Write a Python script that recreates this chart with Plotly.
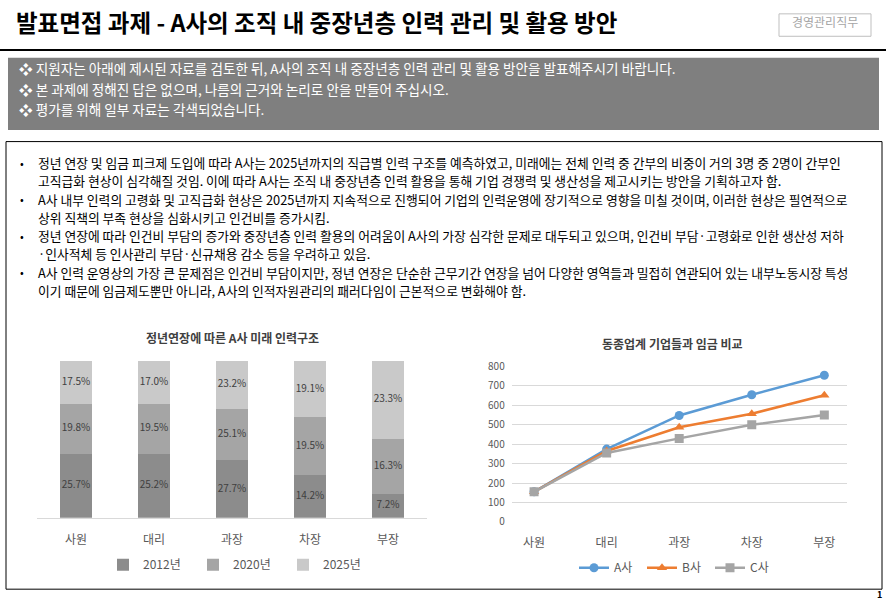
import plotly.graph_objects as go

W, H = 886, 603
def X(px): return px / W
def Y(py): return 1 - py / H

FONT = "Noto Sans CJK KR"

# ---- data ----
ranks = ["사원", "대리", "과장", "차장", "부장"]
years = ["2012년", "2020년", "2025년"]
v2012 = [25.7, 25.2, 27.7, 14.2, 7.2]
v2020 = [19.8, 19.5, 25.1, 19.5, 16.3]
v2025 = [17.5, 17.0, 23.2, 19.1, 23.3]
bar_colors = ["#8c8c8c", "#a5a5a5", "#c9c9c9"]

companies = ["A사", "B사", "C사"]
wage_a = [155, 375, 548, 655, 755]
wage_b = [155, 365, 487, 557, 652]
wage_c = [155, 355, 430, 500, 550]
line_colors = ["#5b9bd5", "#ed7d31", "#a5a5a5"]
line_symbols = ["circle", "triangle-up", "square"]
wage_ticks = [0, 100, 200, 300, 400, 500, 600, 700, 800]

title_text = "발표면접 과제 - A사의 조직 내 중장년층 인력 관리 및 활용 방안"
tag_text = "경영관리직무"
notice_lines = [
    "지원자는 아래에 제시된 자료를 검토한 뒤, A사의 조직 내 중장년층 인력 관리 및 활용 방안을 발표해주시기 바랍니다.",
    "본 과제에 정해진 답은 없으며, 나름의 근거와 논리로 안을 만들어 주십시오.",
    "평가를 위해 일부 자료는 각색되었습니다.",
]
body_lines = [
    (True, "정년 연장 및 임금 피크제 도입에 따라 A사는 2025년까지의 직급별 인력 구조를 예측하였고, 미래에는 전체 인력 중 간부의 비중이 거의 3명 중 2명이 간부인"),
    (False, "고직급화 현상이 심각해질 것임. 이에 따라 A사는 조직 내 중장년층 인력 활용을 통해 기업 경쟁력 및 생산성을 제고시키는 방안을 기획하고자 함."),
    (True, "A사 내부 인력의 고령화 및 고직급화 현상은 2025년까지 지속적으로 진행되어 기업의 인력운영에 장기적으로 영향을 미칠 것이며, 이러한 현상은 필연적으로"),
    (False, "상위 직책의 부족 현상을 심화시키고 인건비를 증가시킴."),
    (True, "정년 연장에 따라 인건비 부담의 증가와 중장년층 인력 활용의 어려움이 A사의 가장 심각한 문제로 대두되고 있으며, 인건비 부담·고령화로 인한 생산성 저하"),
    (False, "·인사적체 등 인사관리 부담·신규채용 감소 등을 우려하고 있음."),
    (True, "A사 인력 운영상의 가장 큰 문제점은 인건비 부담이지만, 정년 연장은 단순한 근무기간 연장을 넘어 다양한 영역들과 밀접히 연관되어 있는 내부노동시장 특성"),
    (False, "이기 때문에 임금제도뿐만 아니라, A사의 인적자원관리의 패러다임이 근본적으로 변화해야 함."),
]
bar_title = "정년연장에 따른 A사 미래 인력구조"
line_title = "동종업계 기업들과 임금 비교"

fig = go.Figure()

# ---- 100% stacked bars ----
series = [v2012, v2020, v2025]
for name, vals, col in zip(years, series, bar_colors):
    fig.add_trace(go.Bar(x=ranks, y=vals, name=name, marker_color=col,
                         marker_line_width=0, xaxis="x", yaxis="y",
                         legend="legend", hoverinfo="skip"))

# label positions (middle of each normalized segment)
totals = [a + b + c for a, b, c in zip(v2012, v2020, v2025)]
cum = [0.0] * len(ranks)
for vals in series:
    mids = []
    for i, v in enumerate(vals):
        share = v / totals[i] * 100
        mids.append(cum[i] + share / 2)
        cum[i] += share
    fig.add_trace(go.Scatter(x=ranks, y=mids, mode="text",
                             text=[f"{v:.1f}%" for v in vals],
                             textfont=dict(family=FONT, size=10, color="#404040"),
                             showlegend=False, xaxis="x", yaxis="y", hoverinfo="skip"))

# ---- lines ----
for name, vals, col, sym in zip(companies, [wage_a, wage_b, wage_c], line_colors, line_symbols):
    fig.add_trace(go.Scatter(x=ranks, y=vals, name=name, mode="lines+markers",
                             line=dict(color=col, width=2.5),
                             marker=dict(symbol=sym, size=9, color=col),
                             xaxis="x2", yaxis="y2", legend="legend2", hoverinfo="skip"))

shapes = [
    dict(type="line", xref="paper", yref="paper", x0=X(0), x1=X(886), y0=Y(43), y1=Y(43),
         line=dict(color="#000000", width=2)),
    dict(type="rect", xref="paper", yref="paper", x0=X(779), x1=X(871), y0=Y(6), y1=Y(29),
         line=dict(color="#bfbfbf", width=1), fillcolor="white"),
    dict(type="rect", xref="paper", yref="paper", x0=X(8), x1=X(879), y0=Y(51), y1=Y(125),
         line=dict(width=0), fillcolor="#7f7f7f"),
    dict(type="rect", xref="paper", yref="paper", x0=X(6), x1=X(882), y0=Y(137), y1=Y(596),
         line=dict(color="#000000", width=1), fillcolor="rgba(0,0,0,0)"),
]

ann = [
    dict(text=f"<b>{title_text}</b>", x=X(14), y=Y(14), xanchor="left", yanchor="middle",
         font=dict(family=FONT, size=23.5, color="#000000")),
    dict(text=tag_text, x=X(825), y=Y(13.5), xanchor="center", yanchor="middle",
         font=dict(family=FONT, size=12, color="#a6a6a6")),
    dict(text="<b>1</b>", x=X(884), y=Y(601), xanchor="right", yanchor="middle",
         font=dict(family=FONT, size=9, color="#000000")),
    dict(text=f"<b>{bar_title}</b>", x=X(233), y=Y(338), xanchor="center", yanchor="middle",
         font=dict(family=FONT, size=12, color="#404040")),
    dict(text=f"<b>{line_title}</b>", x=X(672), y=Y(344), xanchor="center", yanchor="middle",
         font=dict(family=FONT, size=12, color="#404040")),
]
for i, t in enumerate(notice_lines):
    ann.append(dict(text="❖ " + t, x=X(17), y=Y(62 + i * 21), xanchor="left", yanchor="middle",
                    font=dict(family=FONT, size=13.6, color="#ffffff")))
for i, (bul, t) in enumerate(body_lines):
    yy = Y(158.5 + i * 18.75)
    if bul:
        ann.append(dict(text="•", x=X(22), y=yy, xanchor="center", yanchor="middle",
                        font=dict(family=FONT, size=11, color="#000000")))
    ann.append(dict(text=t, x=X(36), y=yy, xanchor="left", yanchor="middle",
                    font=dict(family=FONT, size=12.8, color="#000000")))
for a in ann:
    a.update(xref="paper", yref="paper", showarrow=False)

fig.update_layout(
    width=W, height=H, margin=dict(l=0, r=0, t=0, b=0),
    paper_bgcolor="white", plot_bgcolor="white",
    font=dict(family=FONT, color="#595959"),
    barmode="stack", barnorm="percent", bargap=0.6,
    showlegend=True,
    xaxis=dict(domain=[X(37), X(427)], anchor="y", showline=True, linecolor="#d9d9d9",
               linewidth=1, ticks="", ticklabelstandoff=11,
               tickfont=dict(size=12, color="#595959"), fixedrange=True),
    yaxis=dict(domain=[Y(522.7), Y(361.7)], anchor="x", range=[0, 100], visible=False,
               showgrid=False),
    xaxis2=dict(domain=[X(511.7), X(846.7)], anchor="y2", showline=False, ticks="",
                ticklabelstandoff=12, tickfont=dict(size=12, color="#595959")),
    yaxis2=dict(domain=[Y(527), Y(367.7)], anchor="x2", range=[0, 800], tickvals=wage_ticks,
                showgrid=True, gridcolor="#d9d9d9", gridwidth=1, zeroline=False,
                showline=False, ticks="", ticklabelstandoff=6,
                tickfont=dict(size=10, color="#595959")),
    legend=dict(orientation="h", x=X(238), y=Y(571), xanchor="center", yanchor="middle",
                font=dict(size=12, color="#595959"), itemwidth=30, entrywidth=45,
                bgcolor="rgba(0,0,0,0)", traceorder="normal"),
    legend2=dict(orientation="h", x=X(676), y=Y(574), xanchor="center", yanchor="middle",
                 font=dict(size=12, color="#595959"), itemwidth=30, entrywidth=23,
                 bgcolor="rgba(0,0,0,0)"),
    shapes=shapes, annotations=ann,
)

fig.write_html("out.html")
